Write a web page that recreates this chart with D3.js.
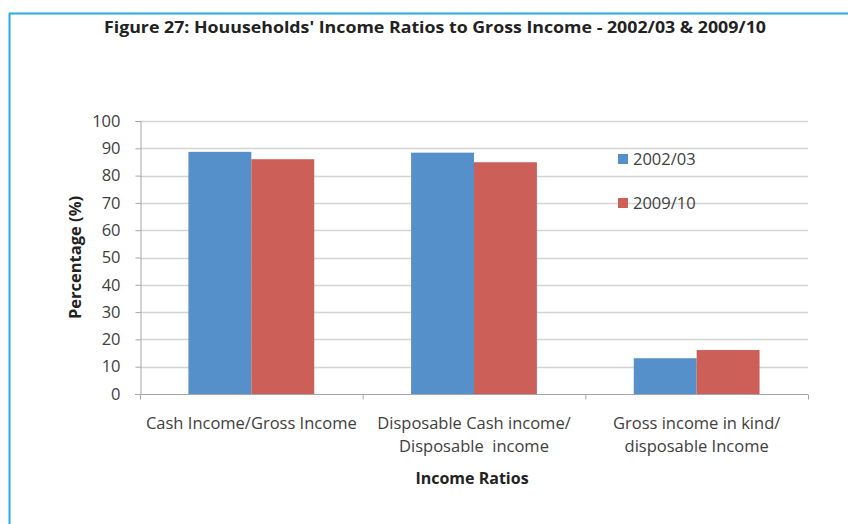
<!DOCTYPE html>
<html>
<head>
<meta charset="utf-8">
<script src="https://cdn.jsdelivr.net/npm/d3@7"></script>
<style>
  html, body { margin: 0; padding: 0; background: #fff; }
  svg { display: block; }
  text { font-family: "Open Sans", "Liberation Sans", sans-serif; fill: #404040; }
</style>
</head>
<body>
<svg id="chart" width="848" height="524"></svg>
<script>
// Household income ratios as a share of gross income
const categories = [
  ["Cash Income/Gross Income"],
  ["Disposable Cash income/", "Disposable  income"],
  ["Gross income in kind/", "disposable Income"]
];
const seriesNames = ["2002/03", "2009/10"];
const values2002 = [88.7, 88.4, 13.1];
const values2009 = [86.0, 84.9, 16.1];
const yTicks = [0, 10, 20, 30, 40, 50, 60, 70, 80, 90, 100];
const colors = ["#5590cb", "#cc5f58"];

const svg = d3.select("#chart");

// Frame lines along top and left edges
svg.append("line").attr("x1", 9).attr("x2", 848).attr("y1", 13.5).attr("y2", 13.5)
  .attr("stroke", "#29aae1").attr("stroke-width", 2);
svg.append("line").attr("x1", 9.5).attr("x2", 9.5).attr("y1", 13).attr("y2", 524)
  .attr("stroke", "#29aae1").attr("stroke-width", 2);

svg.append("text")
  .attr("x", 435).attr("y", 33)
  .attr("text-anchor", "middle")
  .attr("font-size", 16).attr("font-weight", "bold")
  .attr("textLength", 662).attr("lengthAdjust", "spacingAndGlyphs")
  .style("fill", "#222")
  .text("Figure 27: Houuseholds' Income Ratios to Gross Income - 2002/03 & 2009/10");

const plotLeft = 140, plotRight = 808, plotTop = 121, plotBottom = 394;

const x = d3.scaleBand().domain(d3.range(categories.length)).range([plotLeft, plotRight]).paddingInner(0).paddingOuter(0);
const y = d3.scaleLinear().domain([0, 100]).range([plotBottom, plotTop]);
const xs = d3.scaleBand().domain(d3.range(seriesNames.length)).range([0, x.bandwidth()]).paddingInner(0).paddingOuter(0.77);

// gridlines
svg.append("g").selectAll("line").data(yTicks.filter(t => t > 0)).join("line")
  .attr("x1", plotLeft).attr("x2", plotRight)
  .attr("y1", d => Math.round(y(d)) + 0.5).attr("y2", d => Math.round(y(d)) + 0.5)
  .attr("stroke", "#d4d4d4").attr("stroke-width", 1.5);

// bars
const series = [values2002, values2009];
const barGroup = svg.append("g");
series.forEach((vals, si) => {
  barGroup.selectAll(null).data(vals).join("rect")
    .attr("x", (d, i) => x(i) + xs(si))
    .attr("width", xs.bandwidth())
    .attr("y", d => y(d))
    .attr("height", d => plotBottom - y(d))
    .attr("fill", colors[si]);
});

// y axis
const yAxis = svg.append("g").attr("transform", `translate(${plotLeft + 0.5},0)`)
  .call(d3.axisLeft(y).tickValues(yTicks).tickSize(5).tickPadding(15));
yAxis.select(".domain").attr("stroke", "#a6a6a6");
yAxis.selectAll(".tick line").attr("stroke", "#a6a6a6");
yAxis.selectAll(".tick text").attr("font-size", 16.5).attr("font-family", "Open Sans").style("fill", "#404040");

// x axis
const xAxisG = svg.append("g").attr("transform", `translate(0,${plotBottom + 0.5})`);
xAxisG.append("line").attr("x1", plotLeft - 5).attr("x2", plotRight).attr("stroke", "#a6a6a6");
xAxisG.selectAll("line.tk").data(d3.range(categories.length + 1)).join("line")
  .attr("class", "tk")
  .attr("x1", i => (i < categories.length ? x(i) : plotRight) + 0.5)
  .attr("x2", i => (i < categories.length ? x(i) : plotRight) + 0.5)
  .attr("y1", 0).attr("y2", 5).attr("stroke", "#a6a6a6");

const lbl = svg.append("g");
categories.forEach((lines, i) => {
  const t = lbl.append("text")
    .attr("x", x(i) + x.bandwidth() / 2).attr("y", 429)
    .attr("text-anchor", "middle").attr("font-size", 16.5);
  lines.forEach((ln, k) => {
    t.append("tspan").attr("x", x(i) + x.bandwidth() / 2).attr("dy", k === 0 ? 0 : 23)
      .style("white-space", "pre").text(ln);
  });
});

svg.append("text").attr("x", 472).attr("y", 484)
  .attr("text-anchor", "middle").attr("font-size", 16).attr("font-weight", "bold")
  .style("fill", "#222").text("Income Ratios");

svg.append("text")
  .attr("transform", `translate(81,${(plotTop + plotBottom) / 2}) rotate(-90)`)
  .attr("text-anchor", "middle").attr("font-size", 16.5).attr("font-weight", "bold")
  .style("fill", "#222").text("Percentage (%)");

// legend
const legend = svg.append("g");
seriesNames.forEach((name, i) => {
  const ly = 159 + i * 44;
  legend.append("rect").attr("x", 618).attr("y", ly - 5).attr("width", 10).attr("height", 10).attr("fill", colors[i]);
  legend.append("text").attr("x", 633).attr("y", ly + 6).attr("font-size", 16.5).text(name);
});
</script>
</body>
</html>
